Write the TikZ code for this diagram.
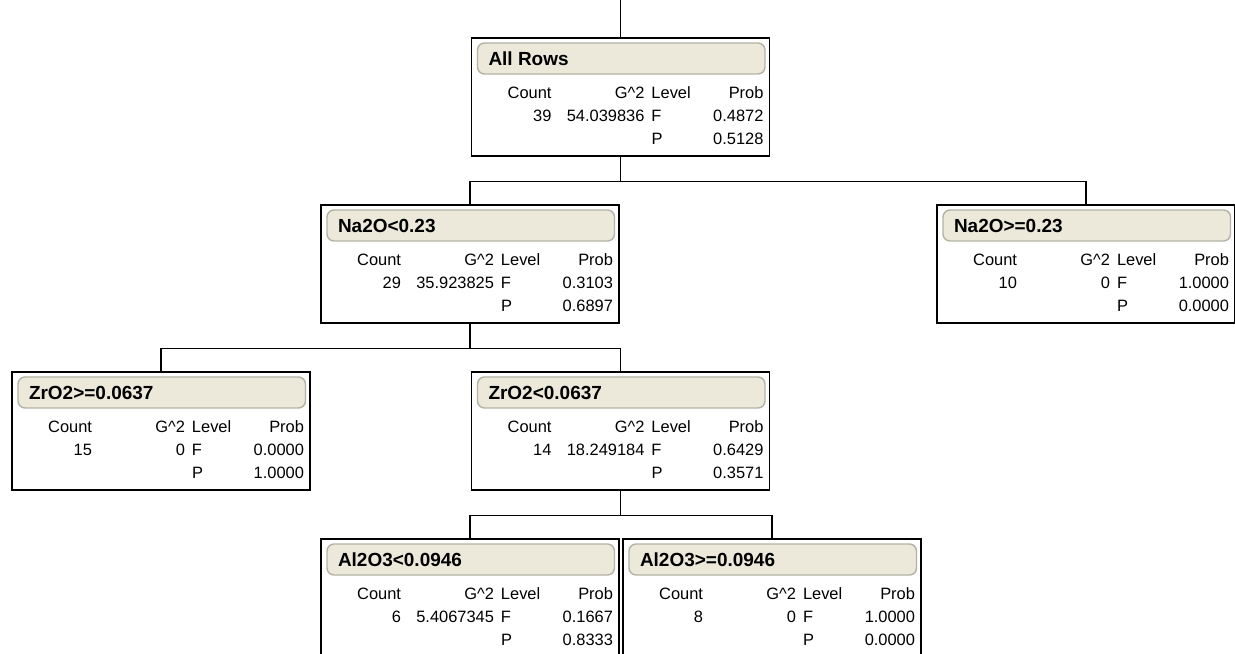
\documentclass[tikz,border=0pt]{standalone}
\usepackage{fontspec}
\setmainfont{Liberation Sans}
\usetikzlibrary{trees}

\definecolor{headfill}{HTML}{ECE9DA}
\definecolor{headline}{HTML}{B4B2A4}

\newcommand{\splitrow}[5]{\hbox to 5.96cm{\vrule height #1 depth 0pt width 0pt\smash{\makebox[1.60cm][r]{#2}\makebox[1.86cm][r]{#3}\hspace{0.14cm}\rlap{#4}\makebox[2.24cm][r]{#5}}\hss}}
\newcommand{\splitinfo}[5]{\vbox to 2.36cm{\offinterlineskip
	\hbox to 5.96cm{\vrule height .55cm depth 0pt width 0pt\hspace{.34cm}\smash{\fontsize{10.8}{12}\selectfont\bfseries #1}\hss}
	\splitrow{.66cm}{Count}{G\textasciicircum2}{Level}{Prob}
	\splitrow{.46cm}{#2}{#3}{F}{#4}
	\splitrow{.46cm}{}{}{P}{#5}
	\vfill}}

\begin{document}
\begin{tikzpicture}[
	splitbox/.style={draw, line width=.6pt, inner sep=0pt, font=\fontsize{9.35}{11}\selectfont,
		path picture={\draw[headline, fill=headfill, rounded corners=4pt, line width=.8pt]
			([shift={(.12cm,-.1cm)}]path picture bounding box.north west) rectangle
			([shift={(-.09cm,-.72cm)}]path picture bounding box.north east);}},
	every child node/.style={splitbox},
	edge from parent/.style={draw, line width=.75pt},
	edge from parent path={(\tikzparentnode.south) -- ([yshift=-.5cm]\tikzparentnode.south) -| (\tikzchildnode.north)},
	level 1/.style={grow via three points={one child at (0,-3.34) and two children at (-3.01,-3.34) and (9.31,-3.34)}},
	level 2/.style={grow via three points={one child at (0,-3.34) and two children at (-6.18,-3.34) and (3.01,-3.34)}},
	level 3/.style={grow via three points={one child at (0,-3.34) and two children at (-3.01,-3.34) and (3.03,-3.34)}}
]
	\useasboundingbox (0,0) rectangle (24.7,-13.08);
	\coordinate (top) at (12.41,0);
	\node[splitbox] (root) at (12.41,-1.94) {\splitinfo{All Rows}{39}{54.039836}{0.4872}{0.5128}}  % root {
		child { node (lowna) {\splitinfo{Na2O<0.23}{29}{35.923825}{0.3103}{0.6897}}
			child { node (highzr) {\splitinfo{ZrO2>=0.0637}{15}{0}{0.0000}{1.0000}} }
			child { node (lowzr) {\splitinfo{ZrO2<0.0637}{14}{18.249184}{0.6429}{0.3571}}
				child { node (lowal) {\splitinfo{Al2O3<0.0946}{6}{5.4067345}{0.1667}{0.8333}} }
				child { node (highal) {\splitinfo{Al2O3>=0.0946}{8}{0}{1.0000}{0.0000}} }
			}
		}
		child { node (highna) {\splitinfo{Na2O>=0.23}{10}{0}{1.0000}{0.0000}} }
	;
	\draw[line width=.75pt] (top) -- (root);
\end{tikzpicture}
\end{document}
